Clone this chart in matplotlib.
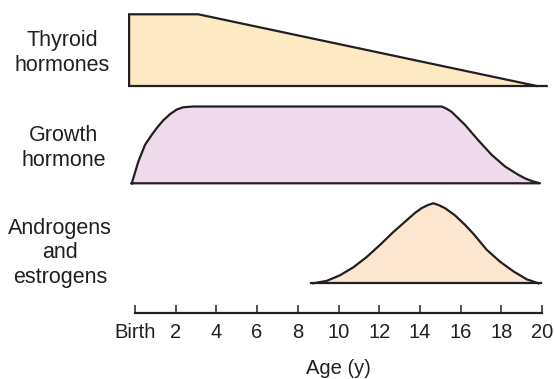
import matplotlib
matplotlib.use("Agg")
import matplotlib.pyplot as plt

plt.rcParams["font.family"] = ["Liberation Sans", "DejaVu Sans"]

W, H = 554, 379
INK = "#231f20"

# Age axis
age_ticks = [0, 2, 4, 6, 8, 10, 12, 14, 16, 18, 20]
age_tick_labels = ["Birth", "2", "4", "6", "8", "10", "12", "14", "16", "18", "20"]

# Thyroid hormones: relative level vs age (years)
thyroid_age = [20.23, -0.29, -0.29, 3.11, 19.74]
thyroid_level = [0.0, 0.0, 1.0, 1.0, 0.0]

# Growth hormone
growth_age = [-0.16, 0.16, 0.49, 0.82, 1.07, 1.39, 1.72, 2.05, 2.37, 2.86,
              15.07, 15.32, 15.56, 16.22, 16.87, 17.53, 18.18, 18.84, 19.16,
              19.49, 19.90]
growth_level = [0.0, 0.28, 0.50, 0.63, 0.72, 0.82, 0.90, 0.96, 0.99, 1.0,
                1.0, 0.97, 0.93, 0.76, 0.56, 0.37, 0.22, 0.11, 0.065,
                0.03, 0.0]

# Androgens and estrogens
sex_age = [8.76, 9.42, 10.07, 10.73, 11.39, 12.04, 12.69, 13.27, 13.76, 14.09,
           14.41, 14.66, 14.90, 15.23, 15.72, 16.22, 16.66, 17.28, 17.94,
           18.59, 19.25, 19.82]
sex_level = [0.0, 0.03, 0.10, 0.20, 0.33, 0.48, 0.64, 0.77, 0.88, 0.94,
             0.98, 1.0, 0.98, 0.94, 0.85, 0.73, 0.61, 0.42, 0.27,
             0.15, 0.05, 0.0]
sex_baseline = [8.66, 19.95]

# horizontal placement: age 0 at x=135 px, age 20 at x=542 px
px0, px20 = 135.0, 542.0
ppy = (px20 - px0) / 20.0
XMIN, XMAX = -0.6, 20.6
ax_left = (px0 + XMIN * ppy) / W
ax_width = (XMAX - XMIN) * ppy / W

fig = plt.figure(figsize=(W / 100, H / 100), dpi=100)


def band(top_px, bottom_px):
    ax = fig.add_axes([ax_left, 1 - bottom_px / H, ax_width, (bottom_px - top_px) / H])
    ax.set_xlim(XMIN, XMAX)
    ax.set_ylim(0, 1)
    ax.axis("off")
    return ax


lw = 1.6

ax1 = band(14.3, 86.0)
ax1.fill(thyroid_age, thyroid_level, color="#fee9c5", lw=0, clip_on=False)
ax1.plot(thyroid_age, thyroid_level, color=INK, lw=lw, clip_on=False,
         solid_joinstyle="miter")

ax2 = band(106.5, 183.3)
ax2.fill(growth_age, growth_level, color="#eedaea", lw=0, clip_on=False)
ax2.plot(growth_age + [growth_age[0]], growth_level + [growth_level[0]],
         color=INK, lw=lw, clip_on=False, solid_joinstyle="round")

ax3 = band(203.3, 283.3)
ax3.fill(sex_age, sex_level, color="#fde6d0", lw=0, clip_on=False)
ax3.plot(sex_age, sex_level, color=INK, lw=lw, clip_on=False,
         solid_joinstyle="round")
ax3.plot(sex_baseline, [0, 0], color=INK, lw=lw, clip_on=False)

# age axis
axis_y = 312.7
axa = fig.add_axes([ax_left, 1 - axis_y / H, ax_width, 0.05])
axa.set_xlim(XMIN, XMAX)
axa.set_ylim(0, 1)
for s in ("top", "left", "right"):
    axa.spines[s].set_visible(False)
axa.spines["bottom"].set_bounds(0, 20)
axa.spines["bottom"].set_linewidth(1.6)
axa.spines["bottom"].set_color(INK)
axa.patch.set_visible(False)
axa.set_yticks([])
axa.set_xticks(age_ticks)
axa.set_xticklabels(age_tick_labels)
axa.tick_params(axis="x", direction="in", length=5.5, width=1.1, color=INK,
                labelsize=14.5, labelcolor=INK, pad=7.5)

fig.text(338 / W, 1 - 368 / H, "Age (y)", ha="center", va="center",
         fontsize=14.5, color=INK)

fs = 15.5
ls = 1.22
fig.text(62 / W, 1 - 53 / H, "Thyroid\nhormones", ha="center", va="center",
         fontsize=fs, color=INK, linespacing=ls)
fig.text(64 / W, 1 - 148 / H, "Growth\nhormone", ha="center", va="center",
         fontsize=fs, color=INK, linespacing=ls)
fig.text(60 / W, 1 - 253 / H, "Androgens\nand\nestrogens", ha="center",
         va="center", fontsize=fs, color=INK, linespacing=ls)

fig.savefig("out.png", dpi=100)
